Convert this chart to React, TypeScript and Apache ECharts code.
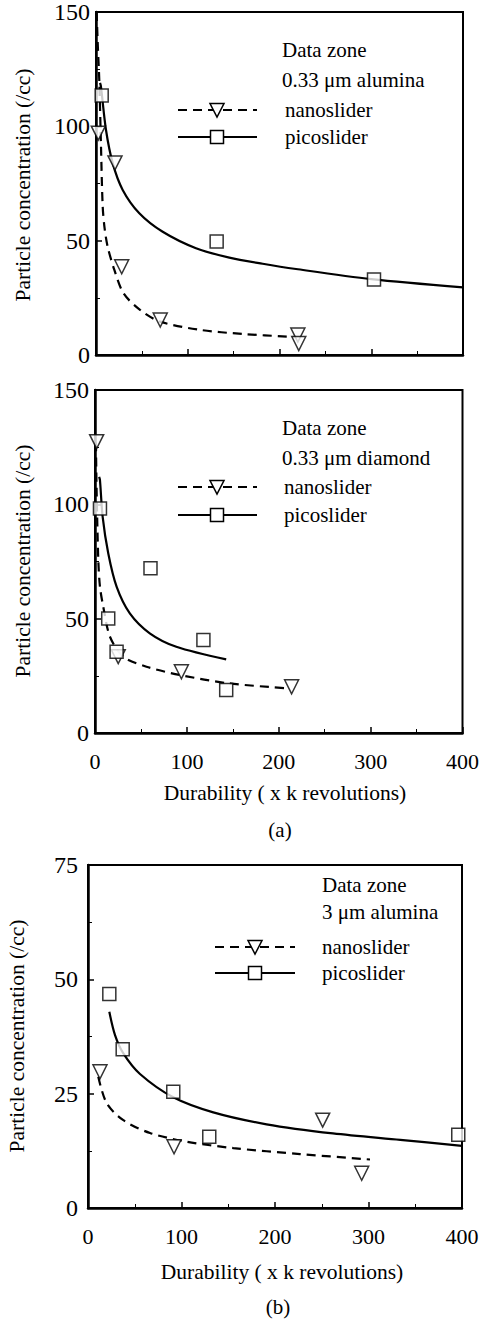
import React, { useEffect, useRef } from "react";
import * as echarts from "echarts";

// ---- Panel 1: 0.33 um alumina ----
const p1NanoX = [2.5, 20.7, 28, 70, 220, 221];
const p1NanoY = [97, 84, 38.6, 15.3, 8.7, 5];
const p1PicoX = [6.2, 131.5, 303];
const p1PicoY = [113.5, 49.6, 33];
const p1NanoFitX = [0.7, 2, 3.6, 5.4, 7.3, 9.5, 12.7, 20, 30, 48, 70, 113, 160, 215];
const p1NanoFitY = [150, 135, 120, 92, 65, 55, 47.4, 37.2, 27, 19.7, 14.6, 11, 9.2, 7.9];
const p1PicoFitX = [4.4, 5.4, 10.9, 18.2, 29.1, 47.2, 72.7, 109, 145.3, 181.7, 218, 300, 400];
const p1PicoFitY = [119, 117.4, 98.4, 83.9, 72.2, 62, 53.9, 46.7, 42.6, 39.9, 37.6, 33.2, 29.6];

// ---- Panel 2: 0.33 um diamond ----
const p2NanoX = [1.8, 25.3, 94, 214];
const p2NanoY = [127.4, 33.4, 26.8, 20.2];
const p2PicoX = [5.4, 14.4, 23.5, 60.4, 118, 142.8];
const p2PicoY = [98.2, 50.1, 35.5, 72, 40.7, 18.8];
const p2NanoFitX = [1, 1.8, 3.6, 5.4, 9, 16.3, 30.7, 56, 92, 146, 211];
const p2NanoFitY = [127, 105, 75.6, 64, 55.2, 42.1, 33.4, 29, 25.4, 21.7, 19.5];
const p2PicoFitX = [4.5, 5.4, 8.3, 14.4, 23.5, 37.9, 59.6, 88.5, 142.8];
const p2PicoFitY = [112, 110.6, 94.6, 78.6, 64, 52.3, 43.6, 37.7, 32.2];

// ---- Panel 3: 3 um alumina ----
const p3NanoX = [12.8, 92, 251, 292.7];
const p3NanoY = [29.8, 13.4, 19.2, 7.6];
const p3PicoX = [22.8, 37.1, 91.2, 129.7, 396];
const p3PicoY = [46.8, 34.7, 25.4, 15.6, 16];
const p3NanoFitX = [11, 20, 37.8, 66.3, 105.6, 155.4, 226.7, 301.6];
const p3NanoFitY = [28.7, 22.9, 19.2, 16.4, 14.5, 13.1, 11.8, 10.6];
const p3PicoFitX = [22.8, 28.9, 37.8, 55.6, 91.2, 134, 191, 262, 334, 400];
const p3PicoFitY = [42.9, 37.8, 33.8, 29.3, 24.2, 20.9, 18.3, 16.3, 14.9, 13.6];

const xTicks = [0, 100, 200, 300, 400];
const yMaxes = [150, 150, 75];
const yIntervals = [50, 50, 25];
const panelTitles = ["0.33 \u03bcm alumina", "0.33 \u03bcm diamond", "3 \u03bcm alumina"];
const seriesNames = ["nanoslider", "picoslider"];
const xTitle = "Durability ( x k revolutions)";
const yTitle = "Particle concentration (/cc)";

const FONT = "'Liberation Serif', 'Times New Roman', serif";
const pairs = (xs: number[], ys: number[]) => xs.map((x, i) => [x, ys[i]]);

export default function App() {
  const ref = useRef<HTMLDivElement>(null);
  useEffect(() => {
    if (!ref.current) return;
    const chart = echarts.init(ref.current, null, { renderer: "svg" });

    const grids = [
      { left: 96, top: 12, width: 367, height: 343 },
      { left: 95, top: 390, width: 369, height: 343 },
      { left: 88, top: 865, width: 374, height: 343 },
    ];

    const panels = [
      { nano: pairs(p1NanoX, p1NanoY), pico: pairs(p1PicoX, p1PicoY), nanoFit: pairs(p1NanoFitX, p1NanoFitY), picoFit: pairs(p1PicoFitX, p1PicoFitY) },
      { nano: pairs(p2NanoX, p2NanoY), pico: pairs(p2PicoX, p2PicoY), nanoFit: pairs(p2NanoFitX, p2NanoFitY), picoFit: pairs(p2PicoFitX, p2PicoFitY) },
      { nano: pairs(p3NanoX, p3NanoY), pico: pairs(p3PicoX, p3PicoY), nanoFit: pairs(p3NanoFitX, p3NanoFitY), picoFit: pairs(p3PicoFitX, p3PicoFitY) },
    ];

    const xAxis = grids.map((_, i) => ({
      type: "value",
      gridIndex: i,
      min: 0,
      max: xTicks[xTicks.length - 1],
      interval: 100,
      axisLine: { show: true, onZero: false, lineStyle: { color: "#000", width: 2.5 } },
      axisTick: { show: true, inside: true, length: 6, lineStyle: { color: "#000", width: 1.5 } },
      minorTick: { show: true, splitNumber: 2, length: 4, lineStyle: { color: "#000", width: 1 } },
      splitLine: { show: false },
      axisLabel: { show: i > 0, color: "#000", fontFamily: FONT, fontSize: 22, margin: 17 },
    }));

    const yAxis = grids.map((_, i) => ({
      type: "value",
      gridIndex: i,
      min: 0,
      max: yMaxes[i],
      interval: yIntervals[i],
      axisLine: { show: true, onZero: false, lineStyle: { color: "#000", width: 2.5 } },
      axisTick: { show: true, inside: true, length: 6, lineStyle: { color: "#000", width: 1.5 } },
      minorTick: { show: true, splitNumber: 2, length: 4, lineStyle: { color: "#000", width: 1 } },
      splitLine: { show: false },
      axisLabel: { color: "#000", fontFamily: FONT, fontSize: 24, margin: i === 2 ? 10 : 6 },
    }));

    const series: any[] = [];
    panels.forEach((p, i) => {
      series.push({
        type: "line", name: seriesNames[0] + i, xAxisIndex: i, yAxisIndex: i, data: p.nanoFit,
        smooth: 0.3, showSymbol: false, symbol: "none", clip: true, z: 2,
        lineStyle: { color: "#000", width: 2.2, type: [9, 6] },
      });
      series.push({
        type: "line", name: seriesNames[1] + i, xAxisIndex: i, yAxisIndex: i, data: p.picoFit,
        smooth: 0.3, showSymbol: false, symbol: "none", clip: true, z: 2,
        lineStyle: { color: "#000", width: 2.2 },
      });
      series.push({
        type: "scatter", xAxisIndex: i, yAxisIndex: i, data: p.nano, z: 3,
        symbol: "triangle", symbolRotate: 180, symbolSize: 14,
        itemStyle: { color: "#fff", borderColor: "#000", borderWidth: 1.5 },
      });
      series.push({
        type: "scatter", xAxisIndex: i, yAxisIndex: i, data: p.pico, z: 3,
        symbol: "rect", symbolSize: 13,
        itemStyle: { color: "#fff", borderColor: "#000", borderWidth: 1.5 },
      });
    });

    const legendPos = [
      { tx: 282, t1: 50, t2: 80, lx1: 178, lx2: 257, mx: 217, l1: 110, l2: 137, lt: 285 },
      { tx: 282, t1: 428, t2: 458, lx1: 178, lx2: 257, mx: 217, l1: 487, l2: 515, lt: 284 },
      { tx: 322, t1: 885, t2: 912, lx1: 215, lx2: 295, mx: 255, l1: 947, l2: 973, lt: 322 },
    ];
    const txt = (x: number, y: number, text: string, extra: any = {}) => ({
      type: "text", x, y,
      style: { text, fill: "#000", fontFamily: FONT, fontSize: 21, align: "left", verticalAlign: "middle", ...(extra.style || {}) },
    });

    const graphic: any[] = [];
    legendPos.forEach((L, i) => {
      graphic.push(txt(L.tx, L.t1, "Data zone"));
      graphic.push(txt(L.tx, L.t2, panelTitles[i]));
      graphic.push({ type: "line", shape: { x1: L.lx1, y1: L.l1, x2: L.lx2, y2: L.l1 }, style: { stroke: "#000", lineWidth: 2.2, lineDash: [9, 6] }, z: 10 });
      graphic.push({ type: "polygon", shape: { points: [[L.mx - 7, L.l1 - 6.5], [L.mx + 7, L.l1 - 6.5], [L.mx, L.l1 + 7]] }, style: { fill: "#fff", stroke: "#000", lineWidth: 1.5 }, z: 11 });
      graphic.push(txt(L.lt, L.l1, seriesNames[0]));
      graphic.push({ type: "line", shape: { x1: L.lx1, y1: L.l2, x2: L.lx2, y2: L.l2 }, style: { stroke: "#000", lineWidth: 2.2 }, z: 10 });
      graphic.push({ type: "rect", shape: { x: L.mx - 6.5, y: L.l2 - 6.5, width: 13, height: 13 }, style: { fill: "#fff", stroke: "#000", lineWidth: 1.5 }, z: 11 });
      graphic.push(txt(L.lt, L.l2, seriesNames[1]));
    });
    // y-axis titles
    [[23, 185], [23, 561], [17, 1036]].forEach(([x, y]) => {
      graphic.push({ type: "text", x, y, rotation: Math.PI / 2, style: { text: yTitle, fill: "#000", fontFamily: FONT, fontSize: 21.5, align: "center", verticalAlign: "middle" } });
    });
    // x-axis titles and panel captions
    graphic.push(txt(285, 793, xTitle, { style: { align: "center", fontSize: 21.5 } }));
    graphic.push(txt(280, 830, "(a)", { style: { align: "center" } }));
    graphic.push(txt(282, 1272, xTitle, { style: { align: "center", fontSize: 21.5 } }));
    graphic.push(txt(278, 1307, "(b)", { style: { align: "center" } }));

    chart.setOption({
      animation: false,
      backgroundColor: "#fff",
      textStyle: { fontFamily: FONT },
      grid: grids.map((g) => ({ ...g, show: true, borderColor: "#000", borderWidth: 2, backgroundColor: "transparent" })),
      xAxis,
      yAxis,
      series,
      graphic,
    });
    return () => chart.dispose();
  }, []);

  return <div ref={ref} style={{ position: "absolute", left: 0, top: 0, width: 482, height: 1320 }} />;
}
